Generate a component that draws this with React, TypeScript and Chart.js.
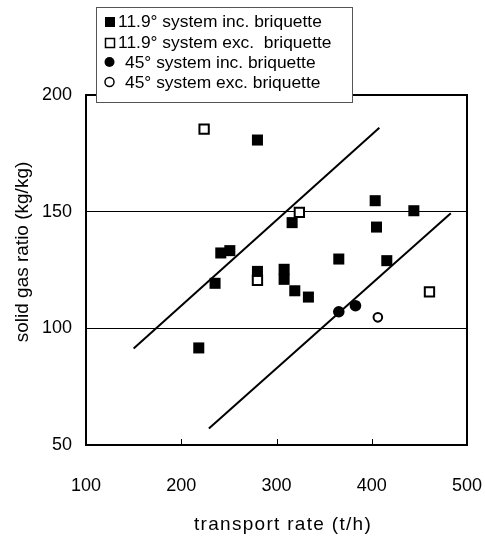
import React, { useEffect, useRef } from "react";
import { Chart, registerables } from "chart.js";

Chart.register(...registerables);

// ---- data ----
const xTickValues = [100, 200, 300, 400, 500];
const yTickValues = [50, 100, 150, 200];

const incSquareX = [280, 403.6, 444.2, 316.4, 405, 241.5, 251, 365.4, 415.8, 235.5, 280, 308, 308, 319.2, 333.5, 218.4];
const incSquareY = [180.7, 154.7, 150.4, 145.3, 143.4, 132.3, 133.3, 129.7, 129, 119.3, 124.4, 125.3, 121.0, 116.1, 113.4, 91.6];

const excSquareX = [224, 324, 280, 460.6];
const excSquareY = [185.4, 149.7, 120.6, 115.6];

const incCircleX = [365.4, 382.9];
const incCircleY = [107.1, 109.7];

const excCircleX = [406.4];
const excCircleY = [104.7];

const upperLineX = [150, 408];
const upperLineY = [91.4, 186];
const lowerLineX = [229, 483];
const lowerLineY = [57.1, 149.3];

const legendLabels = [
  "11.9° system inc. briquette",
  "11.9° system exc.  briquette",
  "45° system inc. briquette",
  "45° system exc. briquette",
];
const xTitle = "transport rate (t/h)";
const yTitle = "solid gas ratio (kg/kg)";
const gridValues = [100, 150];

const FONT = "'Liberation Sans', Arial, sans-serif";

const pts = (xs: number[], ys: number[]) => xs.map((x, i) => ({ x, y: ys[i] }));

const decorPlugin = {
  id: "decor",
  afterDraw(chart: any) {
    const { ctx, chartArea: a, scales } = chart;
    ctx.save();
    // plot box
    ctx.strokeStyle = "#000";
    ctx.lineWidth = 2;
    ctx.strokeRect(a.left, a.top, a.right - a.left, a.bottom - a.top);
    // inward x tick marks
    ctx.lineWidth = 1;
    xTickValues.slice(1, -1).forEach((v) => {
      const px = Math.round(scales.x.getPixelForValue(v)) + 0.5;
      ctx.beginPath();
      ctx.moveTo(px, a.bottom);
      ctx.lineTo(px, a.bottom - 6);
      ctx.stroke();
    });

    // legend box
    const lx = 96, ly = 7, lw = 256, lh = 95;
    ctx.fillStyle = "#fff";
    ctx.fillRect(lx, ly, lw, lh);
    ctx.strokeStyle = "#555";
    ctx.lineWidth = 1;
    ctx.strokeRect(lx + 0.5, ly + 0.5, lw, lh);
    const rowY = [22, 43, 63, 83];
    ctx.font = `17.4px ${FONT}`;
    ctx.textBaseline = "middle";
    ctx.textAlign = "left";
    rowY.forEach((y, i) => {
      ctx.fillStyle = "#000";
      ctx.strokeStyle = "#000";
      ctx.lineWidth = 1.5;
      if (i === 0) {
        ctx.fillRect(105, y - 5, 10, 10);
      } else if (i === 1) {
        ctx.strokeRect(105.5, y - 4.5, 9, 9);
      } else if (i === 2) {
        ctx.beginPath();
        ctx.arc(109.5, y - 1, 5, 0, Math.PI * 2);
        ctx.fill();
      } else {
        ctx.beginPath();
        ctx.arc(109.5, y - 1, 4.5, 0, Math.PI * 2);
        ctx.stroke();
      }
      ctx.fillStyle = "#000";
      ctx.fillText(legendLabels[i], i < 2 ? 118 : 125, y);
    });

    // axis titles
    ctx.font = `19px ${FONT}`;
    ctx.textAlign = "center";
    ctx.textBaseline = "middle";
    ctx.fillStyle = "#000";
    try {
      (ctx as any).letterSpacing = "1.3px";
    } catch (e) {}
    ctx.fillText(xTitle, 283, 525);
    try {
      (ctx as any).letterSpacing = "0px";
    } catch (e) {}
    ctx.save();
    ctx.translate(23, 252);
    ctx.rotate(-Math.PI / 2);
    ctx.fillText(yTitle, 0, 0);
    ctx.restore();
    ctx.restore();
  },
};

export default function App() {
  const ref = useRef<HTMLCanvasElement | null>(null);
  useEffect(() => {
    if (!ref.current) return;
    const chart = new Chart(ref.current, {
      type: "scatter",
      data: {
        datasets: [
          {
            label: "upper",
            type: "line",
            data: pts(upperLineX, upperLineY),
            showLine: true,
            borderColor: "#000",
            borderWidth: 2,
            pointRadius: 0,
            fill: false,
          },
          {
            label: "lower",
            type: "line",
            data: pts(lowerLineX, lowerLineY),
            showLine: true,
            borderColor: "#000",
            borderWidth: 2,
            pointRadius: 0,
            fill: false,
          },
          {
            label: legendLabels[0],
            data: pts(incSquareX, incSquareY),
            pointStyle: "rect",
            pointRadius: 7.8,
            backgroundColor: "#000",
            borderColor: "#000",
            borderWidth: 0,
          },
          {
            label: legendLabels[1],
            data: pts(excSquareX, excSquareY),
            pointStyle: "rect",
            pointRadius: 6.6,
            backgroundColor: "#fff",
            borderColor: "#000",
            borderWidth: 2,
          },
          {
            label: legendLabels[2],
            data: pts(incCircleX, incCircleY),
            pointStyle: "circle",
            pointRadius: 5.8,
            backgroundColor: "#000",
            borderColor: "#000",
            borderWidth: 0,
          },
          {
            label: legendLabels[3],
            data: pts(excCircleX, excCircleY),
            pointStyle: "circle",
            pointRadius: 4.3,
            backgroundColor: "#fff",
            borderColor: "#000",
            borderWidth: 2,
          },
        ] as any,
      },
      options: {
        animation: false,
        responsive: false,
        devicePixelRatio: 1,
        layout: { padding: { top: 95, right: 18, left: 0, bottom: 0 } },
        plugins: { legend: { display: false }, tooltip: { enabled: false } },
        scales: {
          x: {
            type: "linear",
            min: 100,
            max: 500,
            afterBuildTicks: (s: any) => {
              s.ticks = xTickValues.map((v) => ({ value: v }));
            },
            afterFit: (s: any) => {
              s.height = 94;
              s.paddingLeft = 0;
              s.paddingRight = 0;
            },
            grid: { display: false, drawTicks: false },
            border: { display: false },
            ticks: {
              padding: 30,
              color: "#000",
              font: { family: FONT, size: 18 },
              maxRotation: 0,
            },
          },
          y: {
            type: "linear",
            min: 50,
            max: 200,
            afterBuildTicks: (s: any) => {
              s.ticks = yTickValues.map((v) => ({ value: v }));
            },
            afterFit: (s: any) => {
              s.width = 86;
              s.paddingTop = 0;
              s.paddingBottom = 0;
            },
            grid: {
              drawTicks: false,
              lineWidth: 1,
              color: (c: any) => (gridValues.includes(c.tick?.value) ? "#000" : "rgba(0,0,0,0)"),
            },
            border: { display: false },
            ticks: {
              padding: 14,
              color: "#000",
              font: { family: FONT, size: 18 },
            },
          },
        },
      } as any,
      plugins: [decorPlugin],
    });
    return () => chart.destroy();
  }, []);
  return (
    <div style={{ position: "absolute", left: 0, top: 0, width: 485, height: 539, background: "#fff" }}>
      <canvas ref={ref} width={485} height={539} style={{ width: 485, height: 539 }} />
    </div>
  );
}
